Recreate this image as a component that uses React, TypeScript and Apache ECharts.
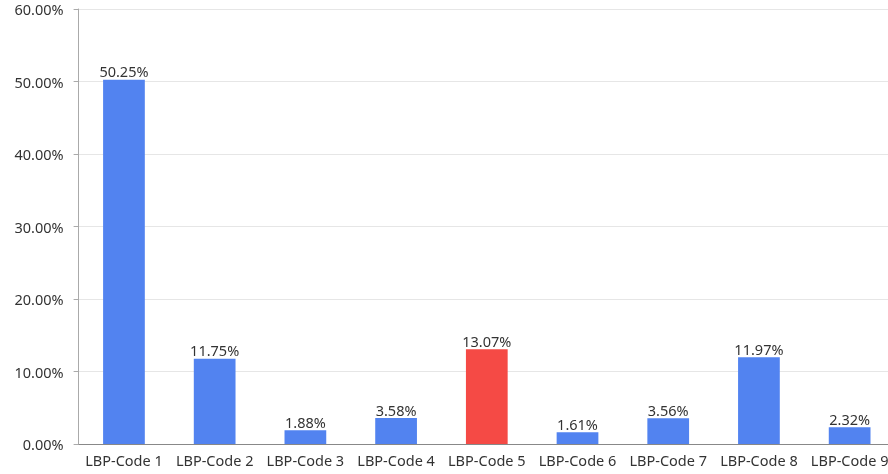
import React, { useEffect, useRef } from "react";
import * as echarts from "echarts";

const categories = ["LBP-Code 1", "LBP-Code 2", "LBP-Code 3", "LBP-Code 4", "LBP-Code 5", "LBP-Code 6", "LBP-Code 7", "LBP-Code 8", "LBP-Code 9"];
const values = [50.25, 11.75, 1.88, 3.58, 13.07, 1.61, 3.56, 11.97, 2.32];
const highlightIndex = 4;

export default function App() {
  const ref = useRef<HTMLDivElement>(null);
  useEffect(() => {
    if (!ref.current) return;
    const chart = echarts.init(ref.current, null, { renderer: "svg" });
    const font = "'Noto Sans', 'Open Sans', sans-serif";
    chart.setOption({
      animation: false,
      grid: { left: 78.6, right: 0, top: 9, bottom: 30, containLabel: false },
      xAxis: {
        type: "category",
        data: categories,
        axisTick: { show: false },
        axisLine: { lineStyle: { color: "#888" } },
        axisLabel: { color: "#333", fontSize: 14.5, fontFamily: font, margin: 8, interval: 0 },
      },
      yAxis: {
        type: "value",
        min: 0,
        max: 60,
        interval: 10,
        axisLine: { show: true, lineStyle: { color: "#aaa" } },
        axisTick: { show: true, length: 5, lineStyle: { color: "#aaa" } },
        splitLine: { lineStyle: { color: "#e6e6e6" } },
        axisLabel: {
          color: "#333",
          fontSize: 14.5,
          lineHeight: 14,
          fontFamily: font,
          margin: 15,
          formatter: (v: number) => v.toFixed(2) + "%",
        },
      },
      series: [
        {
          type: "bar",
          barWidth: "46%",
          data: values.map((v, i) => ({
            value: v,
            itemStyle: { color: i === highlightIndex ? "#F54A45" : "#5283F0" },
          })),
          label: {
            show: true,
            position: "top",
            distance: 1,
            color: "#333",
            fontSize: 14.5,
            fontFamily: font,
            formatter: (p: any) => p.value.toFixed(2) + "%",
          },
        },
      ],
    });
    return () => chart.dispose();
  }, []);
  return (
    <div style={{ position: "fixed", left: 0, top: 0, width: 888, height: 474, overflow: "hidden" }}>
      <div ref={ref} style={{ width: 895.4, height: 474 }} />
    </div>
  );
}
